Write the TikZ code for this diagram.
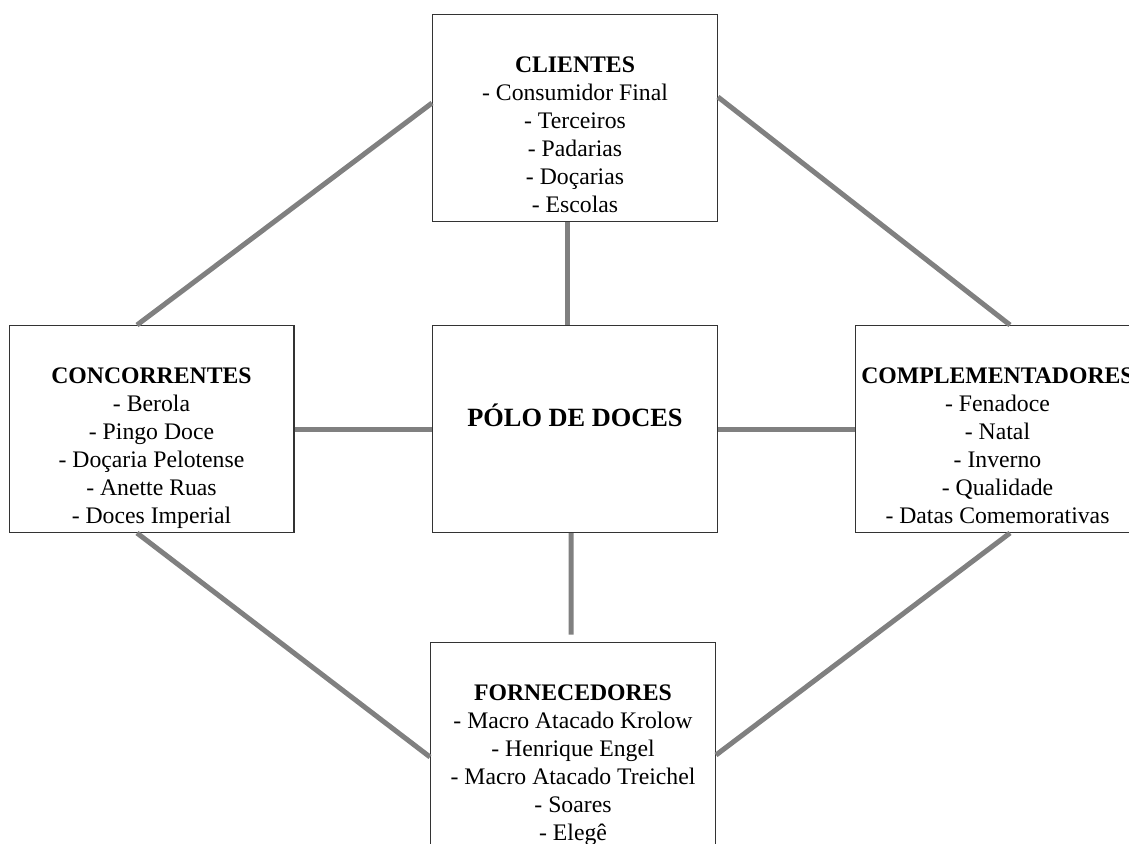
\documentclass[tikz,border=0pt]{standalone}
\usepackage{fontspec}
\setmainfont{Liberation Serif}
\usepackage{tikz}

\tikzset{
  caixa/.style={draw=black!80, line width=0.6pt, fill=white, inner sep=0pt,
    minimum width=5.7cm, minimum height=4.14cm, align=center,
    text height=3.96cm, text depth=0.18cm,
    font=\fontsize{13.5pt}{15.9pt}\selectfont},
  centro/.style={caixa, text height=2.02cm, text depth=2.12cm,
    font=\fontsize{15pt}{18pt}\selectfont\bfseries},
  ligacao/.style={draw=black!50, line width=0.1cm}
}

\begin{document}
\begin{tikzpicture}[x=0.02cm, y=-0.02cm]
\useasboundingbox (0,0) rectangle (1129,843);

\node[caixa] (clientes) at (575,118) {\textbf{CLIENTES}\\- Consumidor Final\\- Terceiros\\- Padarias\\- Doçarias\\- Escolas};
\node[caixa] (concorrentes) at (151.5,429) {\textbf{CONCORRENTES}\\- Berola\\- Pingo Doce\\- Doçaria Pelotense\\- Anette Ruas\\- Doces Imperial};
\node[centro] (polo) at (575,429) {PÓLO DE DOCES};
\node[caixa] (complementadores) at (997.5,429) {\textbf{COMPLEMENTADORES}\\- Fenadoce\\- Natal\\- Inverno\\- Qualidade\\- Datas Comemorativas};
\node[caixa] (fornecedores) at (573,745.5) {\textbf{FORNECEDORES}\\- Macro Atacado Krolow\\- Henrique Engel\\- Macro Atacado Treichel\\- Soares\\- Elegê};

\draw[ligacao] ([yshift=0.3cm]clientes.west) -- ([xshift=-0.29cm]concorrentes.north);
\draw[ligacao] ([yshift=0.42cm]clientes.east) -- ([xshift=0.25cm]complementadores.north);
\draw[ligacao] ([xshift=-0.16cm]clientes.south) -- ([xshift=-0.16cm]polo.north);
\draw[ligacao] (concorrentes.east) -- (polo.west);
\draw[ligacao] (polo.east) -- (complementadores.west);
\draw[ligacao, shorten >=0.14cm] ([xshift=-0.08cm]polo.south) -- ([xshift=-0.04cm]fornecedores.north);
\draw[ligacao] ([xshift=-0.29cm]concorrentes.south) -- ([yshift=-0.23cm]fornecedores.west);
\draw[ligacao] ([xshift=0.25cm]complementadores.south) -- ([yshift=-0.19cm]fornecedores.east);
\end{tikzpicture}
\end{document}
